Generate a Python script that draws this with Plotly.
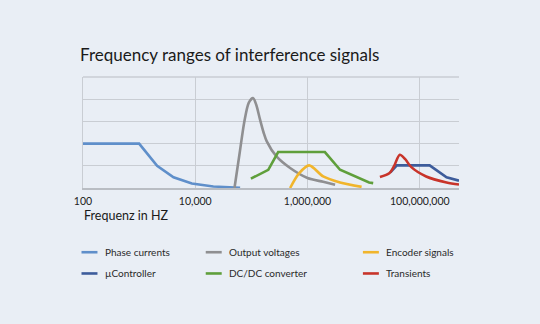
import plotly.graph_objects as go

# Frequency (Hz) / relative level for each interference source
phase_f = [100, 1000, 2090, 4100, 8700, 21000, 63000]
phase_v = [2.0, 2.0, 1.0, 0.48, 0.2, 0.07, 0.01]

uc_f = [3.0e7, 3.9e7, 1.5e8, 3.0e8, 5.0e8]
uc_v = [0.7, 1.02, 1.02, 0.48, 0.33]

out_f = [5.0e4, 6.2e4, 7.5e4, 9.0e4, 1.07e5, 1.22e5, 1.42e5, 1.65e5, 1.88e5, 2.8e5, 4.9e5, 1.0e6, 1.9e6, 3.1e6]
out_v = [0.0, 1.6, 3.0, 3.85, 4.05, 3.75, 3.1, 2.5, 2.1, 1.42, 0.9, 0.45, 0.28, 0.15]

dcdc_f = [9.8e4, 2.0e5, 3.0e5, 2.04e6, 3.8e6, 8.0e6, 1.1e7, 1.25e7, 1.48e7]
dcdc_v = [0.42, 0.82, 1.62, 1.62, 0.82, 0.45, 0.32, 0.25, 0.22]

enc_f = [4.9e5, 7.0e5, 1.07e6, 1.9e6, 3.8e6, 9.2e6]
enc_v = [0.0, 0.65, 1.02, 0.52, 0.25, 0.05]

trans_f = [1.95e7, 2.9e7, 3.5e7, 4.4e7, 5.5e7, 7.0e7, 1.3e8, 3.0e8, 5.0e8]
trans_v = [0.5, 0.68, 1.0, 1.5, 1.3, 0.95, 0.52, 0.25, 0.16]

tick_vals = [100, 10000, 1000000, 100000000]
tick_text = ["100", "10,000", "1,000,000", "100,000,000"]
level_grid = [0, 1, 2, 3, 4, 5]

series = [
    ("Phase currents", phase_f, phase_v, "#5f8fca", "linear"),
    ("µController", uc_f, uc_v, "#3d5c9b", "linear"),
    ("Output voltages", out_f, out_v, "#8f8f91", "spline"),
    ("DC/DC converter", dcdc_f, dcdc_v, "#5f9f3b", "linear"),
    ("Encoder signals", enc_f, enc_v, "#f1b52c", "spline"),
    ("Transients", trans_f, trans_v, "#c8342a", "spline"),
]

BG = "#e9eef5"
GRID = "#c9cdd3"
FONT = "Lato"

fig = go.Figure()
for name, xs, ys, color, shape in series:
    fig.add_trace(go.Scatter(
        x=xs, y=ys, name=name, mode="lines",
        line=dict(color=color, width=2.6, shape=shape, smoothing=0.8),
        showlegend=False, hoverinfo="skip",
    ))

# plot area in pixels
L, R, T, B = 82.5, 459.3, 77.0, 188.3
W, H = 540, 324


def px(x):
    return (x - L) / (R - L)


def py(y):
    return (B - y) / (B - T)


fig.update_layout(
    width=W, height=H,
    margin=dict(l=L, r=W - R, t=T, b=H - B, pad=0),
    paper_bgcolor=BG, plot_bgcolor=BG,
    font=dict(family=FONT, color="#222222"),
    title=dict(
        text="Frequency ranges of interference signals",
        font=dict(size=17, color="#1a1a1a", family=FONT),
        xref="container", yref="container",
        x=80 / W, xanchor="left", y=1 - 55 / H, yanchor="middle",
    ),
    xaxis=dict(
        type="log", range=[2, 8.699],
        tickvals=tick_vals, ticktext=tick_text,
        tickfont=dict(size=10.5, color="#222222"),
        showgrid=True, gridcolor=GRID, gridwidth=1.2,
        showline=True, linecolor="#b9bdc3", linewidth=1.6,
        ticks="", zeroline=False, ticklabelstandoff=3,
    ),
    yaxis=dict(
        range=[level_grid[0], level_grid[-1]], tickvals=level_grid,
        showticklabels=False, showgrid=True,
        gridcolor=GRID, gridwidth=1.2,
        showline=True, linecolor=GRID, linewidth=1.2,
        zeroline=False, ticks="",
    ),
)

# grid line along the top edge of the plot area
fig.add_shape(
    type="line", xref="paper", yref="paper",
    x0=0, x1=1, y0=1, y1=1,
    line=dict(color=GRID, width=1.4), layer="below",
)

fig.add_annotation(
    text="Frequenz in HZ", xref="paper", yref="paper",
    x=px(81), y=py(216), xanchor="left", yanchor="middle",
    showarrow=False, font=dict(size=12.5, color="#1a1a1a", family=FONT),
)

# legend: three columns of two entries
cols = [(81, 102.5), (205.5, 226.5), (363, 384.5)]
rows = [252.7, 274.0]
legend_order = [
    [series[0], series[1]],
    [series[2], series[3]],
    [series[4], series[5]],
]
for (sx, tx), entries in zip(cols, legend_order):
    for ry, (name, _, _, color, _) in zip(rows, entries):
        fig.add_shape(
            type="line", xref="paper", yref="paper",
            x0=px(sx), x1=px(sx + 16), y0=py(ry), y1=py(ry),
            line=dict(color=color, width=2.6),
        )
        fig.add_annotation(
            text=name, xref="paper", yref="paper",
            x=px(tx), y=py(ry), xanchor="left", yanchor="middle",
            showarrow=False, font=dict(size=10, color="#2a2a2a", family=FONT),
        )

fig.write_html("out.html")
